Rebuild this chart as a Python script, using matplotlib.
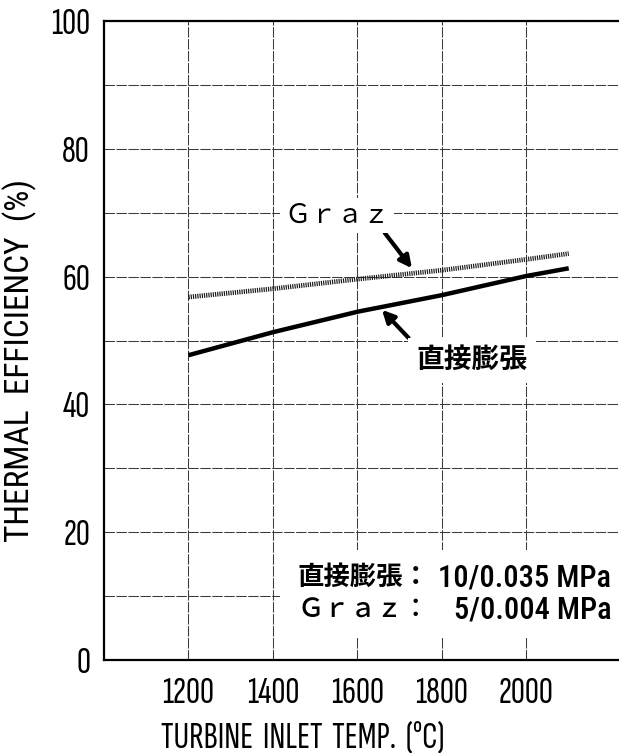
import matplotlib.pyplot as plt
from matplotlib.patches import Rectangle
from matplotlib.ticker import MultipleLocator, FixedLocator

# Data
temps = [1200, 1400, 1600, 1800, 2000, 2100]
eff_direct = [47.7, 51.3, 54.5, 57.1, 60.1, 61.3]
eff_graz = [56.8, 58.1, 59.6, 61.0, 62.7, 63.6]
xticks = [1200, 1400, 1600, 1800, 2000]
yticks = [0, 20, 40, 60, 80, 100]

narrow = ['Sofia Sans Extra Condensed', 'Roboto Condensed', 'DejaVu Sans']
cond = ['Roboto Condensed', 'Sofia Sans Condensed', 'DejaVu Sans']
cjk = ['Noto Sans CJK JP', 'DejaVu Sans']

fig = plt.figure(figsize=(6.19, 7.53), dpi=100)
ax = fig.add_axes([104/619, 93/753, 1 - 104/619, 639/753])

ax.plot(temps, eff_direct, color='k', lw=3.2, solid_capstyle='butt', zorder=3)
ax.plot(temps, eff_graz, color='#1a1a1a', lw=3.4, linestyle=(0, (0.25, 0.22)),
        dash_capstyle='butt', zorder=3)

ax.set_xlim(1000, 2219)
ax.set_ylim(0, 100)
ax.xaxis.set_major_locator(FixedLocator(xticks))
ax.yaxis.set_major_locator(FixedLocator(yticks))
ax.yaxis.set_minor_locator(MultipleLocator(10))
ax.grid(True, which='both', color='#3a3a3a', lw=0.75, linestyle=(0, (10, 1.5)))
ax.set_axisbelow(True)

ax.tick_params(which='both', length=0)
ax.tick_params(axis='y', pad=10)
ax.tick_params(axis='x', pad=12)
ax.set_xticklabels([str(t) for t in xticks], family=narrow, fontsize=28)
ax.set_yticklabels([str(t) for t in yticks], family=narrow, fontsize=28)

for s in ['left', 'bottom', 'top']:
    ax.spines[s].set_linewidth(1.6)
ax.spines['right'].set_visible(False)

ax.set_xlabel('TURBINE  INLET  TEMP.  (°C)', family=narrow, fontsize=28)
ax.xaxis.set_label_coords(0.386, -0.096)
ax.set_ylabel('THERMAL  EFFICIENCY  (%)', family=cond, fontsize=24)
ax.yaxis.set_label_coords(-0.13, 0.468)

# white patch behind the condition note (gridlines are cut there)
ax.add_patch(Rectangle((0.342, 0.034), 0.66, 0.138, transform=ax.transAxes,
                       fc='white', ec='none', zorder=1.5))

arrow = dict(arrowstyle='-|>', color='k', lw=3, mutation_scale=18,
             shrinkA=0, shrinkB=0)
ax.annotate('Ｇｒａｚ', xy=(1729, 61.3), xytext=(1552, 69.6),
            family=cjk, fontsize=19, ha='center', va='center',
            arrowprops=dict(arrow, relpos=(0.92, 0.0)),
            bbox=dict(fc='white', ec='none', pad=3), zorder=4)
ax.annotate('直接膨張', xy=(1658, 54.8), xytext=(1871, 46.9),
            family=cjk, fontsize=20, fontweight='bold', ha='center', va='center',
            arrowprops=dict(arrow, relpos=(0.0, 1.0)),
            bbox=dict(fc='white', ec='none', pad=6), zorder=4)

ax.text(0.376, 0.129, '直接膨張：', transform=ax.transAxes, family=cjk,
        fontsize=19, fontweight='bold', ha='left', va='center', zorder=4)
ax.text(0.376, 0.078, 'Ｇｒａｚ：', transform=ax.transAxes, family=cjk,
        fontsize=19, fontweight='medium', ha='left', va='center', zorder=4)
ax.text(0.985, 0.129, '10/0.035 MPa', transform=ax.transAxes, family=cond,
        fontsize=22, fontweight='medium', ha='right', va='center', zorder=4)
ax.text(0.985, 0.078, '5/0.004 MPa', transform=ax.transAxes, family=cond,
        fontsize=22, fontweight='medium', ha='right', va='center', zorder=4)

fig.savefig('out.png', dpi=100)
